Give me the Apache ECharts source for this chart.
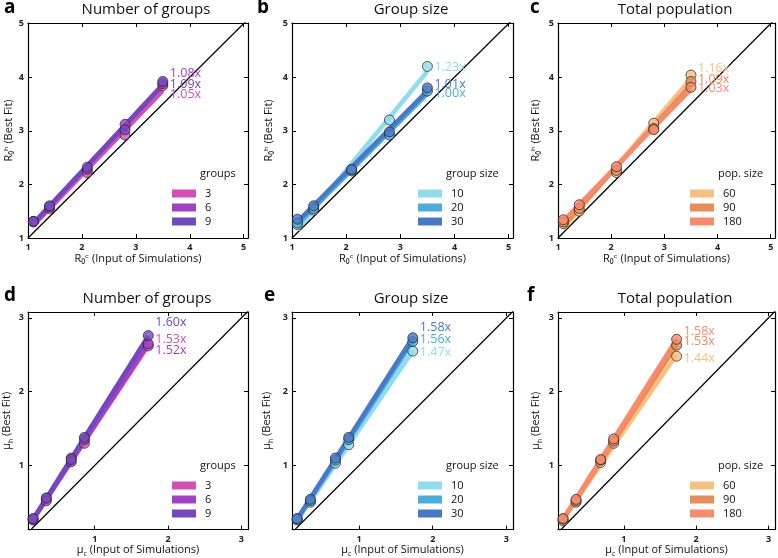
<!DOCTYPE html>
<html lang="en">
<head>
<meta charset="UTF-8">
<title>Best fit vs simulation input</title>
<script src="https://cdn.jsdelivr.net/npm/echarts@6/dist/echarts.min.js"></script>
<style>
  html, body { margin: 0; padding: 0; background: #fff; }
  #main { width: 778px; height: 558px; }
</style>
</head>
<body>
<div id="main"></div>
<script>
// simulation inputs (x positions)
const r0Input = [1.1, 1.4, 2.1, 2.8, 3.5];
const muInput = [0.16, 0.34, 0.68, 0.86, 1.73];

const groupNames = ['3', '6', '9'];
const sizeNames = ['10', '20', '30'];
const popNames = ['60', '90', '180'];

// a - R0, number of groups
const aGroups3 = [1.30, 1.55, 2.22, 2.92, 3.84];
const aGroups6 = [1.31, 1.58, 2.28, 3.12, 3.88];
const aGroups9 = [1.31, 1.60, 2.32, 3.02, 3.92];
const aSlopes = ['1.05x', '1.08x', '1.09x'];
// b - R0, group size
const bSize10 = [1.25, 1.52, 2.25, 3.20, 4.20];
const bSize20 = [1.28, 1.55, 2.27, 2.92, 3.74];
const bSize30 = [1.35, 1.60, 2.28, 2.98, 3.80];
const bSlopes = ['1.23x', '1.00x', '1.01x'];
// c - R0, total population
const cPop60 = [1.27, 1.50, 2.22, 3.14, 4.04];
const cPop90 = [1.30, 1.55, 2.26, 3.04, 3.92];
const cPop180 = [1.34, 1.62, 2.33, 3.02, 3.81];
const cSlopes = ['1.16x', '1.09x', '1.03x'];
// d - mu, number of groups
const dGroups3 = [0.26, 0.55, 1.10, 1.30, 2.62];
const dGroups6 = [0.27, 0.52, 1.05, 1.35, 2.65];
const dGroups9 = [0.28, 0.56, 1.08, 1.38, 2.76];
const dSlopes = ['1.53x', '1.52x', '1.60x'];
// e - mu, group size
const eSize10 = [0.26, 0.50, 1.03, 1.28, 2.55];
const eSize20 = [0.27, 0.52, 1.07, 1.35, 2.68];
const eSize30 = [0.28, 0.54, 1.10, 1.38, 2.73];
const eSlopes = ['1.47x', '1.56x', '1.58x'];
// f - mu, total population
const fPop60 = [0.25, 0.50, 1.04, 1.30, 2.48];
const fPop90 = [0.27, 0.52, 1.07, 1.33, 2.63];
const fPop180 = [0.28, 0.54, 1.08, 1.36, 2.71];
const fSlopes = ['1.44x', '1.53x', '1.58x'];

const r0Ticks = [1, 2, 3, 4, 5];
const muTicks = [1, 2, 3];

const FONT = "'Open Sans', 'DejaVu Sans', sans-serif";
const groupColors = ['#d44fb4', '#a43fc8', '#7048c0'];
const sizeColors = ['#8fdcec', '#48acdc', '#4a78c8'];
const popColors = ['#f8c080', '#e88c58', '#f98a6c'];

const r0Axes = { x: [1, 5.08], y: [1, 5.01], ticks: r0Ticks,
  xName: 'R\u2080\u1D9C (Input of Simulations)', yName: 'R\u2080\u02B0 (Best Fit)' };
const muAxes = { x: [0.09, 3.09], y: [0.13, 3.08], ticks: muTicks,
  xName: '{t|\u03BC}{s|c}{t| (Input of Simulations)}', yName: '{t|\u03BC}{s|h}{t| (Best Fit)}' };

const panels = [
  { letter: 'a', title: 'Number of groups', legendTitle: 'groups', names: groupNames, colors: groupColors,
    xs: r0Input, ys: [aGroups3, aGroups6, aGroups9], slopes: aSlopes, axes: r0Axes,
    grid: { left: 28, top: 23, width: 220, height: 215 }, yGap: 14, xGap: 12,
    labelDy: [4, -11, -1], legend: { left: 167, top: 183 }, letterPos: [4, -2], titleX: 146 },
  { letter: 'b', title: 'Group size', legendTitle: 'group size', names: sizeNames, colors: sizeColors,
    xs: r0Input, ys: [bSize10, bSize20, bSize30], slopes: bSlopes, axes: r0Axes,
    grid: { left: 292, top: 23, width: 221, height: 215 }, yGap: 18, xGap: 12,
    labelDy: [-4, 0, -6], legend: { left: 413, top: 183 }, letterPos: [257, -2], titleX: 411 },
  { letter: 'c', title: 'Total population', legendTitle: 'pop. size', names: popNames, colors: popColors,
    xs: r0Input, ys: [cPop60, cPop90, cPop180], slopes: cSlopes, axes: r0Axes,
    grid: { left: 558, top: 23, width: 217, height: 215 }, yGap: 17, xGap: 12,
    labelDy: [-10, -6, -1], legend: { left: 685, top: 183 }, letterPos: [530, -2], titleX: 675 },
  { letter: 'd', title: 'Number of groups', legendTitle: 'groups', names: groupNames, colors: groupColors,
    xs: muInput, ys: [dGroups3, dGroups6, dGroups9], slopes: dSlopes, axes: muAxes,
    grid: { left: 28, top: 312, width: 220, height: 218 }, yGap: 14, xGap: 6,
    labelDy: [-6, 7, -13], legend: { left: 167, top: 475 }, letterPos: [4, 286], titleX: 147 },
  { letter: 'e', title: 'Group size', legendTitle: 'group size', names: sizeNames, colors: sizeColors,
    xs: muInput, ys: [eSize10, eSize20, eSize30], slopes: eSlopes, axes: muAxes,
    grid: { left: 292, top: 312, width: 221, height: 218 }, yGap: 18, xGap: 6,
    labelDy: [2, -2, -10], legend: { left: 413, top: 475 }, letterPos: [264, 286], titleX: 411 },
  { letter: 'f', title: 'Total population', legendTitle: 'pop. size', names: popNames, colors: popColors,
    xs: muInput, ys: [fPop60, fPop90, fPop180], slopes: fSlopes, axes: muAxes,
    grid: { left: 558, top: 312, width: 217, height: 218 }, yGap: 15, xGap: 6,
    labelDy: [4, -3, -8], legend: { left: 685, top: 475 }, letterPos: [527, 286], titleX: 675 }
];

// least squares line through the points, drawn from first to last input
function fitLine(xs, ys) {
  const n = xs.length;
  const mx = xs.reduce((s, v) => s + v, 0) / n;
  const my = ys.reduce((s, v) => s + v, 0) / n;
  let sxy = 0, sxx = 0;
  for (let k = 0; k < n; k++) {
    sxy += (xs[k] - mx) * (ys[k] - my);
    sxx += (xs[k] - mx) * (xs[k] - mx);
  }
  const b = sxy / sxx, a = my - b * mx;
  return [[xs[0], a + b * xs[0]], [xs[n - 1], a + b * xs[n - 1]]];
}

const nameRich = {
  t: { fontSize: 11, fontFamily: FONT, color: '#111', lineHeight: 14 },
  s: { fontSize: 7, fontFamily: FONT, color: '#111', lineHeight: 8, verticalAlign: 'bottom' }
};

const grids = [], xAxes = [], yAxes = [], series = [], legends = [], graphics = [];

panels.forEach((p, i) => {
  grids.push(Object.assign({ containLabel: false }, p.grid));
  const tick = { show: true, inside: true, length: 4, lineStyle: { color: '#000', width: 1 }, customValues: p.axes.ticks };
  const line = { show: true, onZero: false, lineStyle: { color: '#000', width: 1.2 } };
  const lab = { fontSize: 9, fontWeight: 'bold', color: '#222', fontFamily: FONT, customValues: p.axes.ticks };
  xAxes.push({
    type: 'value', gridIndex: i, position: 'bottom', min: p.axes.x[0], max: p.axes.x[1],
    axisLine: line, axisTick: tick, axisLabel: Object.assign({ margin: 5 }, lab), splitLine: { show: false },
    name: p.axes.xName, nameLocation: 'middle', nameGap: p.xGap,
    nameTextStyle: { fontSize: 11, fontFamily: FONT, color: '#111', verticalAlign: 'top', rich: nameRich }
  });
  xAxes.push({
    type: 'value', gridIndex: i, position: 'top', min: p.axes.x[0], max: p.axes.x[1],
    axisLine: line, axisTick: tick, axisLabel: { show: false }, splitLine: { show: false }
  });
  yAxes.push({
    type: 'value', gridIndex: i, position: 'left', min: p.axes.y[0], max: p.axes.y[1],
    axisLine: line, axisTick: tick, axisLabel: Object.assign({ margin: 4 }, lab), splitLine: { show: false },
    name: p.axes.yName, nameLocation: 'middle', nameGap: p.yGap,
    nameTextStyle: { fontSize: 11, fontFamily: FONT, color: '#111', rich: nameRich }
  });
  yAxes.push({
    type: 'value', gridIndex: i, position: 'right', min: p.axes.y[0], max: p.axes.y[1],
    axisLine: line, axisTick: tick, axisLabel: { show: false }, splitLine: { show: false }
  });

  const lo = Math.min(p.axes.x[0], p.axes.y[0]);
  const hi = Math.max(p.axes.x[1], p.axes.y[1]);
  series.push({
    type: 'line', xAxisIndex: 2 * i, yAxisIndex: 2 * i, data: [[lo, lo], [hi, hi]],
    symbol: 'none', silent: true, z: 1, lineStyle: { color: '#000', width: 1.3 }
  });
  p.names.forEach((nm, k) => {
    series.push({
      type: 'line', name: nm, xAxisIndex: 2 * i, yAxisIndex: 2 * i,
      data: fitLine(p.xs, p.ys[k]), symbol: 'none', z: 2,
      lineStyle: { color: p.colors[k], width: 4.5 }, itemStyle: { color: p.colors[k] },
      endLabel: {
        show: true, formatter: p.slopes[k], color: p.colors[k], fontSize: 12.5, fontFamily: FONT,
        distance: 7, offset: [0, p.labelDy[k]]
      }
    });
  });
  p.names.forEach((nm, k) => {
    series.push({
      type: 'scatter', name: nm, xAxisIndex: 2 * i, yAxisIndex: 2 * i,
      data: p.xs.map((x, j) => [x, p.ys[k][j]]), symbolSize: 10, z: 3,
      itemStyle: { color: p.colors[k], borderColor: '#222', borderWidth: 0.9 }
    });
  });

  legends.push({
    left: p.legend.left, top: p.legend.top, orient: 'vertical', icon: 'rect',
    itemWidth: 24, itemHeight: 8, itemGap: 3, data: p.names,
    itemStyle: { borderWidth: 0 },
    textStyle: { fontSize: 11, color: '#111', fontFamily: FONT, padding: [0, 0, 0, 4] }
  });
  graphics.push({
    type: 'text', x: p.legend.left + 33, y: p.legend.top - 9,
    style: { text: p.legendTitle, fontSize: 11, fontFamily: FONT, fill: '#111', textVerticalAlign: 'middle' }
  });
  graphics.push({
    type: 'text', x: p.titleX, y: p.grid.top - 13,
    style: { text: p.title, fontSize: 15, fontFamily: FONT, fill: '#111', textAlign: 'center', textVerticalAlign: 'middle' }
  });
  graphics.push({
    type: 'text', x: p.letterPos[0], y: p.letterPos[1],
    style: { text: p.letter, fontSize: 19, fontWeight: 'bold', fontFamily: FONT, fill: '#000' }
  });
});

const myChart = echarts.init(document.getElementById('main'));
myChart.setOption({
  backgroundColor: '#fff',
  animation: false,
  grid: grids,
  xAxis: xAxes,
  yAxis: yAxes,
  legend: legends,
  graphic: graphics,
  series: series
});
</script>
</body>
</html>
